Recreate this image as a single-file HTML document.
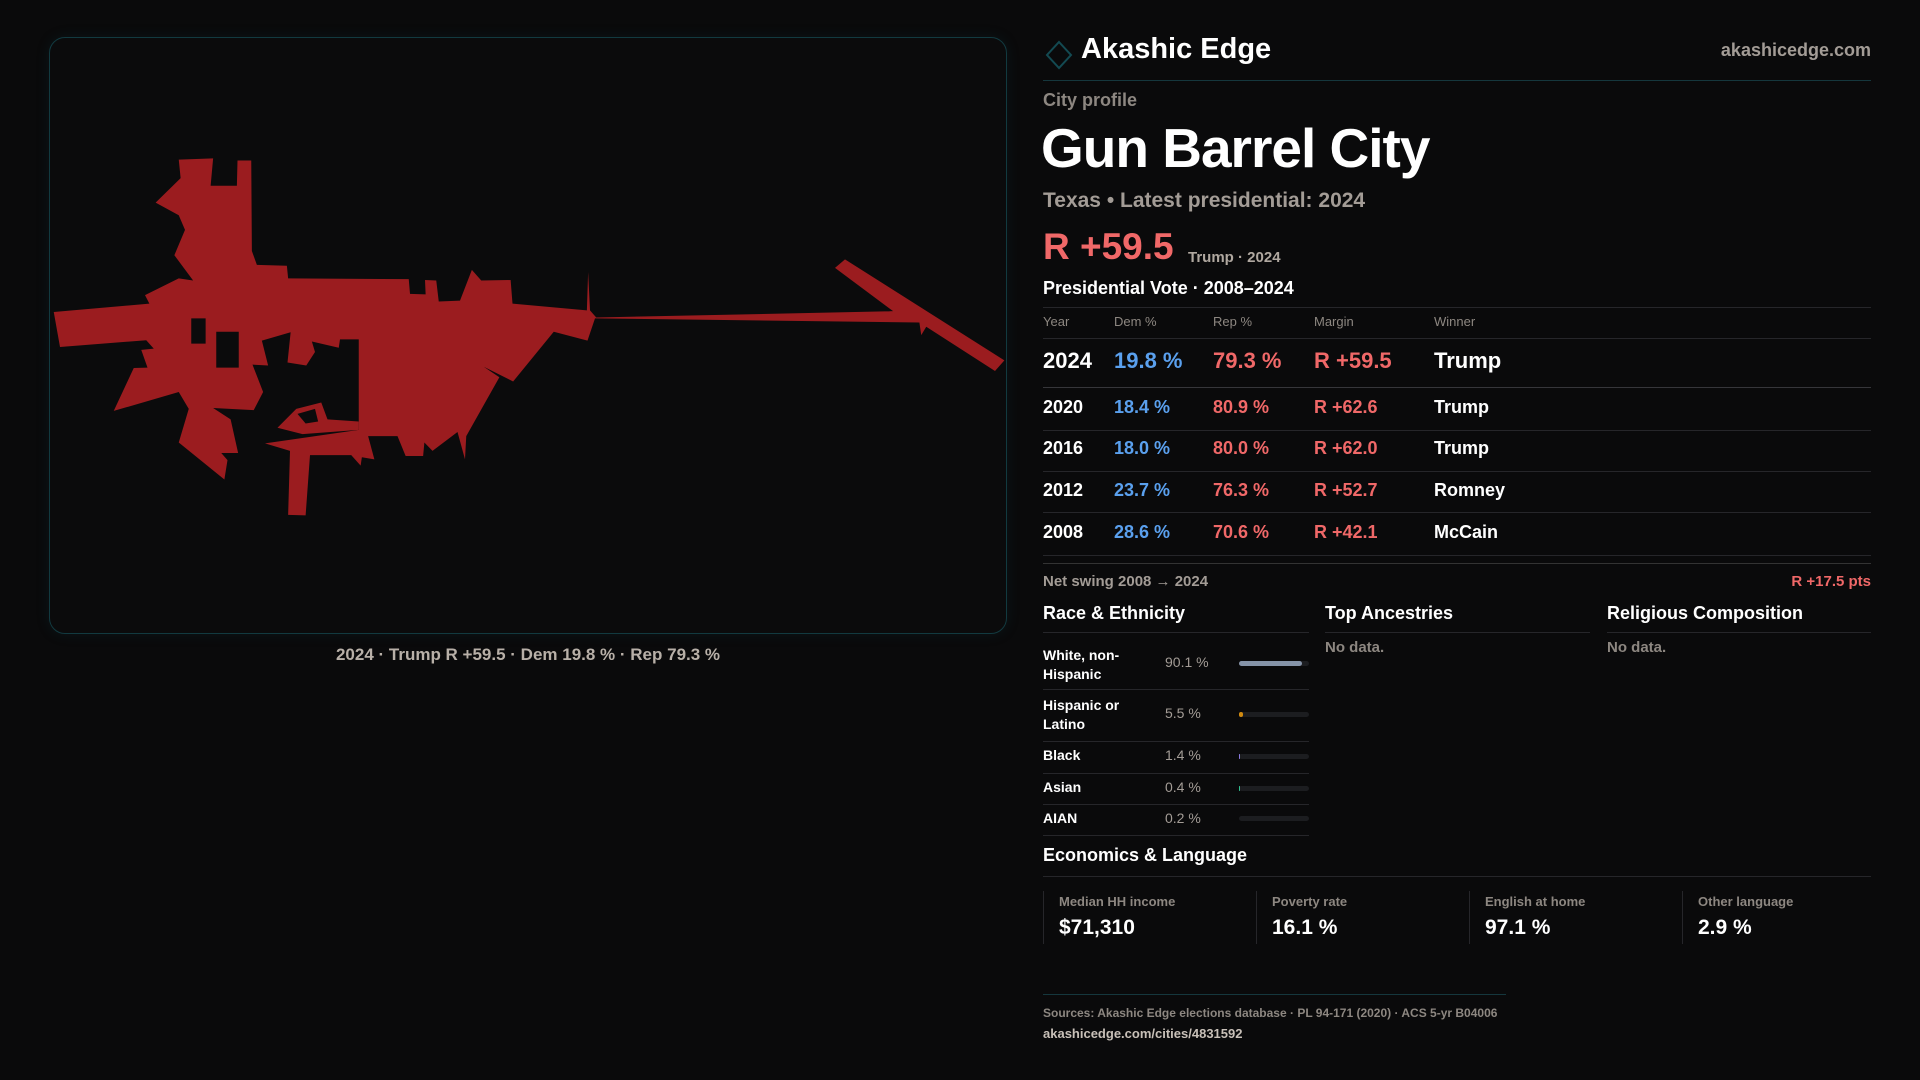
<!DOCTYPE html>
<html><head><meta charset="utf-8"><style>
*{margin:0;padding:0;box-sizing:border-box}
body{width:1920px;height:1080px;background:#0a0a0b;font-family:"Liberation Sans",sans-serif;color:#fff;position:relative;overflow:hidden}
.a{position:absolute;white-space:nowrap}
.panel{position:absolute;left:49px;top:37px;width:958px;height:597px;border:1px solid #123a40;border-radius:16px;background:#0b0b0c;box-shadow:0 0 14px rgba(20,90,100,.15)}
.g{color:#a39c96}
.red{color:#f06868}.blue{color:#5aa0ee}
.hl{position:absolute;height:1px;background:#26262a}
.bar{position:absolute;left:1239px;width:70px;height:5px;border-radius:3px;background:#1c1d20}
</style></head><body>
<div class="panel"></div>
<svg class="a" style="left:40px;top:30px" width="980" height="660" viewBox="0 0 1568 1568" preserveAspectRatio="none">
<g fill="#9b1c1f" fill-rule="evenodd">
<path d="M22,670 L175,650 168,630 222,590 245,595 215,535 232,475 222,440 185,410 225,352 222,308 277,305 273,370 315,370 316,310 338,310 339,525 347,558 395,560 397,590 590,592 592,627 617,628 616,594 634,595 638,645 672,643 691,570 706,595 753,594 756,650 875,666 877,575 880,666 890,683 1365,668 1272,565 1288,545 1543,785 1528,810 1418,705 1410,725 1407,695 888,685 876,738 822,717 757,835 710,800 735,825 682,965 680,1020 668,955 628,1000 615,980 613,1012 585,1012 572,965 525,965 535,1020 515,1015 513,1035 498,1010 432,1010 425,1153 397,1152 400,1000 360,982 510,950 510,735 480,735 478,755 435,740 440,765 426,797 396,790 401,718 355,738 365,797 340,795 357,860 342,903 277,898 305,925 317,1005 290,1005 300,1022 295,1068 222,980 238,900 222,860 118,905 150,803 172,802 162,760 182,757 170,737 32,753 Z M242,685 L265,685 265,745 242,745 Z M282,717 L318,717 318,802 282,802 Z"/>
<path d="M380,945 L410,900 450,885 460,925 510,930 510,950 420,960 Z M412,912 L440,900 445,930 425,935 Z"/>
</g></svg>
<div class="a" style="left:0;width:1056px;top:645px;text-align:center;font-size:17px;font-weight:bold;color:#b8b0a8">2024 · Trump R +59.5 · Dem 19.8 % · Rep 79.3 %</div>

<svg class="a" style="left:1045px;top:40px" width="28" height="30"><path d="M14,2 L26,15 14,28 2,15Z" fill="none" stroke="#134a52" stroke-width="2"/></svg>
<div class="a" style="left:1081px;top:33px;font-size:29px;font-weight:bold">Akashic Edge</div>
<div class="a g" style="right:49px;top:40px;font-size:18px;font-weight:bold">akashicedge.com</div>
<div class="hl" style="left:1043px;width:828px;top:80px;background:#15373d"></div>
<div class="a g" style="left:1043px;top:90px;font-size:18px;font-weight:bold;color:#8d8781">City profile</div>
<div class="a" style="left:1041px;top:116px;font-size:55px;font-weight:bold;letter-spacing:-1px">Gun Barrel City</div>
<div class="a g" style="left:1043px;top:189px;font-size:21px;font-weight:bold">Texas • Latest presidential: 2024</div>
<div class="a red" style="left:1043px;top:226px;font-size:37px;font-weight:bold">R +59.5</div>
<div class="a" style="left:1188px;top:249px;font-size:15px;font-weight:bold;color:#b0a8a0">Trump · 2024</div>
<div class="a" style="left:1043px;top:278px;font-size:18px;font-weight:bold">Presidential Vote · 2008–2024</div>
<div class="hl" style="left:1043px;width:828px;top:307px"></div>
<div class="a g" style="left:1043px;top:314px;font-size:13px;color:#8d8781">Year</div>
<div class="a g" style="left:1114px;top:314px;font-size:13px;color:#8d8781">Dem %</div>
<div class="a g" style="left:1213px;top:314px;font-size:13px;color:#8d8781">Rep %</div>
<div class="a g" style="left:1314px;top:314px;font-size:13px;color:#8d8781">Margin</div>
<div class="a g" style="left:1434px;top:314px;font-size:13px;color:#8d8781">Winner</div>
<div class="hl" style="left:1043px;width:828px;top:338px"></div>
<div class="a" style="left:1043px;top:348px;font-size:22px;font-weight:bold">2024</div>
<div class="a blue" style="left:1114px;top:348px;font-size:22px;font-weight:bold">19.8 %</div>
<div class="a red" style="left:1213px;top:348px;font-size:22px;font-weight:bold">79.3 %</div>
<div class="a red" style="left:1314px;top:348px;font-size:22px;font-weight:bold">R +59.5</div>
<div class="a" style="left:1434px;top:348px;font-size:22px;font-weight:bold">Trump</div>
<div class="hl" style="left:1043px;width:828px;top:387px;background:#36363a"></div>

<div class="a" style="left:1043px;top:397px;font-size:18px;font-weight:bold">2020</div>
<div class="a blue" style="left:1114px;top:397px;font-size:18px;font-weight:bold">18.4 %</div>
<div class="a red" style="left:1213px;top:397px;font-size:18px;font-weight:bold">80.9 %</div>
<div class="a red" style="left:1314px;top:397px;font-size:18px;font-weight:bold">R +62.6</div>
<div class="a" style="left:1434px;top:397px;font-size:18px;font-weight:bold">Trump</div>
<div class="hl" style="left:1043px;width:828px;top:430px"></div>
<div class="a" style="left:1043px;top:438px;font-size:18px;font-weight:bold">2016</div>
<div class="a blue" style="left:1114px;top:438px;font-size:18px;font-weight:bold">18.0 %</div>
<div class="a red" style="left:1213px;top:438px;font-size:18px;font-weight:bold">80.0 %</div>
<div class="a red" style="left:1314px;top:438px;font-size:18px;font-weight:bold">R +62.0</div>
<div class="a" style="left:1434px;top:438px;font-size:18px;font-weight:bold">Trump</div>
<div class="hl" style="left:1043px;width:828px;top:471px"></div>
<div class="a" style="left:1043px;top:480px;font-size:18px;font-weight:bold">2012</div>
<div class="a blue" style="left:1114px;top:480px;font-size:18px;font-weight:bold">23.7 %</div>
<div class="a red" style="left:1213px;top:480px;font-size:18px;font-weight:bold">76.3 %</div>
<div class="a red" style="left:1314px;top:480px;font-size:18px;font-weight:bold">R +52.7</div>
<div class="a" style="left:1434px;top:480px;font-size:18px;font-weight:bold">Romney</div>
<div class="hl" style="left:1043px;width:828px;top:512px"></div>
<div class="a" style="left:1043px;top:522px;font-size:18px;font-weight:bold">2008</div>
<div class="a blue" style="left:1114px;top:522px;font-size:18px;font-weight:bold">28.6 %</div>
<div class="a red" style="left:1213px;top:522px;font-size:18px;font-weight:bold">70.6 %</div>
<div class="a red" style="left:1314px;top:522px;font-size:18px;font-weight:bold">R +42.1</div>
<div class="a" style="left:1434px;top:522px;font-size:18px;font-weight:bold">McCain</div>
<div class="hl" style="left:1043px;width:828px;top:555px"></div>
<div class="hl" style="left:1043px;width:828px;top:563px;background:#333"></div>
<div class="a g" style="left:1043px;top:573px;font-size:15px;font-weight:bold">Net swing 2008 → 2024</div>
<div class="a red" style="right:49px;top:573px;font-size:15px;font-weight:bold">R +17.5 pts</div>

<div class="a" style="left:1043px;top:603px;font-size:18px;font-weight:bold">Race &amp; Ethnicity</div>
<div class="a" style="left:1325px;top:603px;font-size:18px;font-weight:bold">Top Ancestries</div>
<div class="a" style="left:1607px;top:603px;font-size:18px;font-weight:bold">Religious Composition</div>
<div class="hl" style="left:1043px;width:266px;top:632px"></div>
<div class="hl" style="left:1325px;width:265px;top:632px"></div>
<div class="hl" style="left:1607px;width:264px;top:632px"></div>
<div class="a g" style="left:1325px;top:639px;font-size:15px;font-weight:bold;color:#8d8781">No data.</div>
<div class="a g" style="left:1607px;top:639px;font-size:15px;font-weight:bold;color:#8d8781">No data.</div>

<div class="a" style="left:1043px;top:646px;font-size:14px;font-weight:bold;line-height:19px">White, non-<br>Hispanic</div>
<div class="a g" style="left:1165px;top:654px;font-size:14px">90.1 %</div>
<div class="bar" style="top:661px"></div><div class="bar" style="top:661px;width:63px;background:#8593a8"></div>
<div class="hl" style="left:1043px;width:266px;top:689px"></div>
<div class="a" style="left:1043px;top:696px;font-size:14px;font-weight:bold;line-height:19px">Hispanic or<br>Latino</div>
<div class="a g" style="left:1165px;top:705px;font-size:14px">5.5 %</div>
<div class="bar" style="top:712px"></div><div class="bar" style="top:712px;width:4px;background:#d08a10"></div>
<div class="hl" style="left:1043px;width:266px;top:741px"></div>
<div class="a" style="left:1043px;top:747px;font-size:14px;font-weight:bold">Black</div>
<div class="a g" style="left:1165px;top:747px;font-size:14px">1.4 %</div>
<div class="bar" style="top:754px"></div><div class="bar" style="top:754px;width:1px;background:#8a7ae0"></div>
<div class="hl" style="left:1043px;width:266px;top:773px"></div>
<div class="a" style="left:1043px;top:779px;font-size:14px;font-weight:bold">Asian</div>
<div class="a g" style="left:1165px;top:779px;font-size:14px">0.4 %</div>
<div class="bar" style="top:786px"></div><div class="bar" style="top:786px;width:1px;background:#30c090"></div>
<div class="hl" style="left:1043px;width:266px;top:804px"></div>
<div class="a" style="left:1043px;top:810px;font-size:14px;font-weight:bold">AIAN</div>
<div class="a g" style="left:1165px;top:810px;font-size:14px">0.2 %</div>
<div class="bar" style="top:816px"></div>
<div class="hl" style="left:1043px;width:266px;top:835px"></div>

<div class="a" style="left:1043px;top:845px;font-size:18px;font-weight:bold">Economics &amp; Language</div>
<div class="hl" style="left:1043px;width:828px;top:876px"></div>
<div class="hl" style="left:1043px;width:1px;height:53px;top:891px"></div>
<div class="hl" style="left:1256px;width:1px;height:53px;top:891px"></div>
<div class="hl" style="left:1469px;width:1px;height:53px;top:891px"></div>
<div class="hl" style="left:1682px;width:1px;height:53px;top:891px"></div>
<div class="a g" style="left:1059px;top:894px;font-size:13px;font-weight:bold;color:#8d8781">Median HH income</div>
<div class="a g" style="left:1272px;top:894px;font-size:13px;font-weight:bold;color:#8d8781">Poverty rate</div>
<div class="a g" style="left:1485px;top:894px;font-size:13px;font-weight:bold;color:#8d8781">English at home</div>
<div class="a g" style="left:1698px;top:894px;font-size:13px;font-weight:bold;color:#8d8781">Other language</div>
<div class="a" style="left:1059px;top:916px;font-size:21px;font-weight:bold">$71,310</div>
<div class="a" style="left:1272px;top:916px;font-size:21px;font-weight:bold">16.1 %</div>
<div class="a" style="left:1485px;top:916px;font-size:21px;font-weight:bold">97.1 %</div>
<div class="a" style="left:1698px;top:916px;font-size:21px;font-weight:bold">2.9 %</div>

<div class="hl" style="left:1043px;width:463px;top:994px;background:#15373d"></div>
<div class="a" style="left:1043px;top:1006px;font-size:12px;font-weight:bold;color:#8d8781">Sources: Akashic Edge elections database · PL 94-171 (2020) · ACS 5-yr B04006</div>
<div class="a" style="left:1043px;top:1026px;font-size:13px;font-weight:bold;color:#c8c0b8">akashicedge.com/cities/4831592</div>
</body></html>
